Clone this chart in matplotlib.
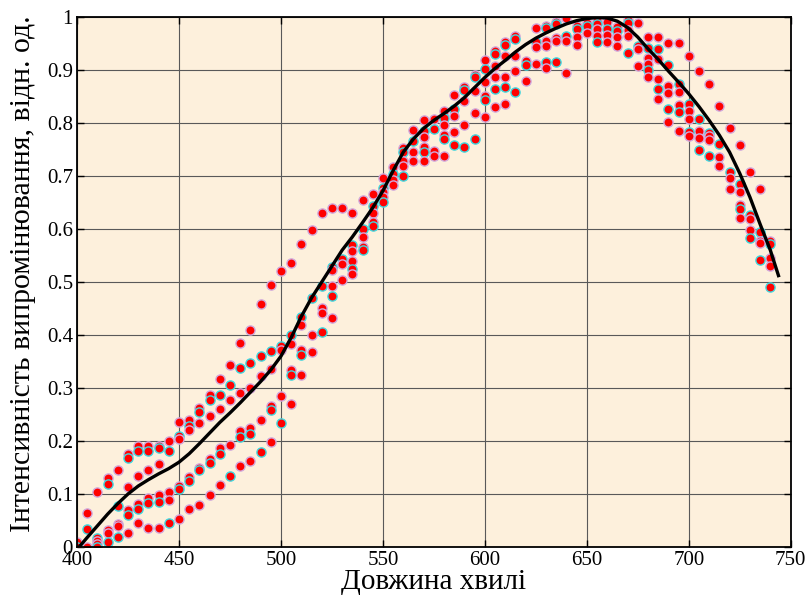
import numpy as np
import matplotlib
matplotlib.use("Agg")
import matplotlib.pyplot as plt
from matplotlib.ticker import FormatStrFormatter

n = np.nan

# wavelength grid of the measured points, nm
wl = np.arange(400, 745, 5)

# measured points, sorted by value in every wavelength column (rank 1 = highest)
s1 = [0.01, 0.064, 0.104, 0.13, 0.145, 0.176, 0.19, 0.19, 0.19, 0.2,
      0.235, 0.239, 0.262, 0.286, 0.317, 0.343, 0.385, 0.41, 0.458, 0.495,
      0.52, 0.535, 0.572, 0.598, 0.63, 0.64, 0.64, 0.63, 0.655, 0.666,
      0.697, 0.717, 0.753, 0.787, 0.805, 0.807, 0.822, 0.853, 0.868, 0.891,
      0.918, 0.936, 0.953, 0.964, 0.917, 0.979, 0.983, 0.991, 0.999, 0.983,
      0.989, 0.993, 0.991, 0.982, 0.994, 0.989, 0.962, 0.962, 0.951, 0.951,
      0.927, 0.898, 0.873, 0.832, 0.79, 0.759, 0.707, 0.676, 0.577]
s2 = [0.0, 0.034, 0.017, 0.118, 0.078, 0.168, 0.182, 0.182, 0.187, 0.182,
      0.209, 0.229, 0.254, 0.277, 0.286, 0.306, 0.338, 0.348, 0.36, 0.369,
      0.379, 0.4, 0.433, 0.47, 0.492, 0.529, 0.544, 0.57, 0.6, 0.644,
      0.678, 0.703, 0.745, 0.766, 0.784, 0.789, 0.81, 0.827, 0.863, 0.887,
      0.901, 0.931, 0.948, 0.958, 0.909, 0.952, 0.979, 0.986, 0.964, 0.977,
      0.983, 0.986, 0.977, 0.974, 0.989, 0.945, 0.942, 0.939, 0.909, 0.874,
      0.836, 0.808, 0.782, 0.761, 0.708, 0.685, 0.627, 0.594, 0.571]
s3 = [n, 0.0, 0.011, 0.033, 0.043, 0.114, 0.134, 0.145, 0.156, 0.103,
      0.204, 0.22, 0.233, 0.247, 0.26, 0.278, 0.291, 0.3, 0.323, 0.335,
      0.371, 0.383, 0.418, 0.4, 0.45, 0.522, 0.533, 0.559, 0.584, 0.63,
      0.67, 0.692, 0.729, 0.746, 0.773, 0.748, 0.797, 0.813, 0.842, 0.861,
      0.878, 0.908, 0.926, 0.927, 0.879, 0.944, 0.954, 0.961, 0.955, 0.962,
      0.969, 0.977, 0.966, 0.962, 0.975, 0.94, 0.922, 0.92, 0.87, 0.859,
      0.823, 0.785, 0.776, 0.735, 0.696, 0.669, 0.619, 0.578, 0.545]
s4 = [n, n, 0.005, 0.027, 0.039, 0.07, 0.082, 0.093, 0.098, 0.088,
      0.115, 0.132, 0.149, 0.166, 0.187, 0.192, 0.219, 0.225, 0.24, 0.266,
      0.285, 0.333, 0.371, 0.368, 0.442, 0.492, 0.504, 0.539, 0.566, 0.613,
      0.66, 0.683, 0.718, 0.729, 0.754, 0.737, 0.778, 0.783, 0.797, 0.819,
      0.85, 0.887, 0.886, 0.899, n, 0.911, 0.945, 0.955, 0.895, 0.948,
      n, 0.964, 0.953, 0.946, 0.964, 0.908, 0.912, 0.883, 0.856, 0.834,
      0.807, 0.772, 0.767, 0.719, 0.675, 0.646, 0.598, 0.573, 0.53]
s5 = [n, n, 0.0, 0.009, 0.018, 0.061, 0.072, 0.083, 0.085, 0.045,
      0.109, 0.124, 0.145, 0.159, 0.175, 0.134, 0.208, 0.214, 0.18, 0.258,
      0.233, 0.324, 0.362, n, 0.405, 0.473, n, 0.525, 0.56, 0.605,
      0.65, n, 0.7, n, 0.745, n, 0.769, 0.759, 0.754, 0.769,
      0.843, 0.864, 0.868, 0.858, n, n, 0.916, 0.915, n, n,
      n, 0.952, n, n, 0.932, n, 0.9, 0.864, 0.827, 0.82,
      0.783, 0.749, 0.738, n, n, 0.638, 0.583, 0.542, 0.49]
s6 = [n, n, n, n, n, 0.026, 0.045, 0.036, 0.036, n,
      0.053, 0.072, 0.08, 0.099, 0.117, n, 0.153, 0.162, n, 0.198,
      n, 0.27, 0.324, n, n, 0.432, n, 0.516, n, n,
      n, n, n, n, 0.729, n, 0.737, n, n, n,
      0.812, 0.83, 0.836, n, n, n, 0.903, n, n, n,
      n, n, n, n, n, n, 0.886, 0.846, 0.801, 0.785,
      0.775, n, n, n, n, 0.62, n, n, n]

# averaged curve
line_wl = [401] + list(range(405, 745, 5)) + [744]
line_val = [0.0, 0.018, 0.04, 0.062, 0.082, 0.1, 0.115, 0.127, 0.138, 0.148,
            0.16, 0.176, 0.195, 0.215, 0.235, 0.253, 0.272, 0.292, 0.312,
            0.334, 0.36, 0.395, 0.435, 0.47, 0.5, 0.53, 0.56, 0.585, 0.612,
            0.64, 0.672, 0.71, 0.745, 0.77, 0.79, 0.805, 0.818, 0.832, 0.848,
            0.867, 0.886, 0.903, 0.918, 0.934, 0.948, 0.96, 0.97, 0.979,
            0.987, 0.993, 0.997, 0.999, 0.998, 0.992, 0.98, 0.962, 0.94,
            0.92, 0.898, 0.877, 0.855, 0.831, 0.805, 0.777, 0.745, 0.705,
            0.66, 0.609, 0.56, 0.512]

series = [s1, s2, s3, s4, s5, s6]
edge_colors = ["#d0a8dc", "#3fd8e0", "#d0a8dc", "#d0a8dc", "#3fd8e0", "#d0a8dc"]

plt.rcParams["font.family"] = ["Liberation Serif", "DejaVu Serif"]

fig = plt.figure(figsize=(8.11, 5.98), dpi=100)
ax = fig.add_axes([0.095, 0.0853, 0.880, 0.8863])
ax.set_facecolor("#fdf0dc")

for s, ec in zip(series, edge_colors):
    ax.plot(wl, s, "o", ms=6.6, mfc="#ff0000", mec=ec, mew=1.0, zorder=2)

ax.plot(line_wl, line_val, "-", color="black", lw=2.4, zorder=3)

ax.set_xlim(400, 750)
ax.set_ylim(0, 1)
ax.set_xticks(np.arange(400, 751, 50))
ax.set_yticks(np.arange(0, 1.01, 0.1))
ax.yaxis.set_major_formatter(FormatStrFormatter("%g"))
ax.grid(True, color="0.35", lw=0.8, zorder=1)
ax.set_axisbelow(True)
ax.tick_params(direction="in", top=True, right=True, length=5, width=1,
               labelsize=15, pad=3)
for sp in ax.spines.values():
    sp.set_linewidth(1.3)

ax.set_xlabel("Довжина хвилі", fontsize=21, labelpad=-1)
ax.set_ylabel("Інтенсивність випромінювання, відн. од.", fontsize=21.5)
ax.yaxis.set_label_coords(-0.058, 0.515)

fig.savefig("out.png", dpi=100)
